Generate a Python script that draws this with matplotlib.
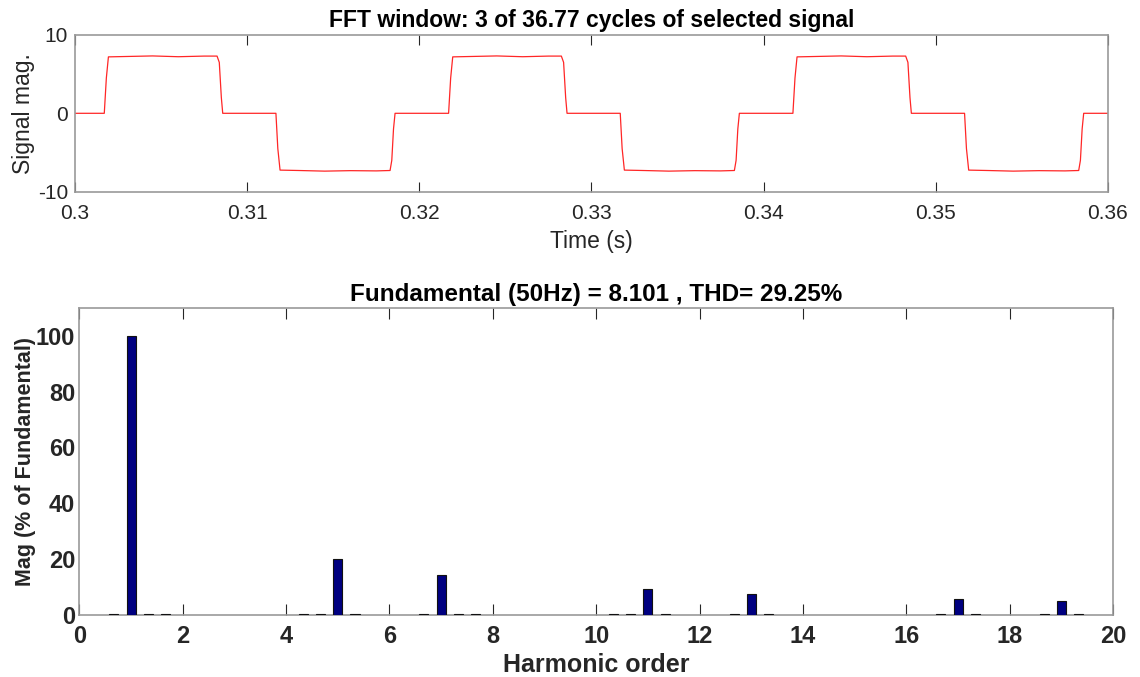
import numpy as np
import matplotlib
matplotlib.use("Agg")
import matplotlib.pyplot as plt

plt.rcParams['font.family'] = ['Liberation Sans', 'DejaVu Sans']
plt.rcParams['axes.unicode_minus'] = False

# ---- 上圖：FFT 視窗內的訊號 (3 個週期) ----
sig_t = [0.3000, 0.30170, 0.30182, 0.30194, 0.3030, 0.3045, 0.3060, 0.3075, 0.30825, 0.30838, 0.30850, 0.30858,
         0.31167, 0.31178, 0.31191, 0.3130, 0.3145, 0.3160, 0.3175, 0.31830, 0.31840, 0.31850, 0.31859,
         0.32170, 0.32182, 0.32194, 0.3230, 0.3245, 0.3260, 0.3275, 0.32825, 0.32838, 0.32850, 0.32858,
         0.33167, 0.33178, 0.33191, 0.3330, 0.3345, 0.3360, 0.3375, 0.33830, 0.33840, 0.33850, 0.33859,
         0.34170, 0.34182, 0.34194, 0.3430, 0.3445, 0.3460, 0.3475, 0.34825, 0.34838, 0.34850, 0.34858,
         0.35167, 0.35178, 0.35191, 0.3530, 0.3545, 0.3560, 0.3575, 0.35830, 0.35840, 0.35850, 0.35859,
         0.3600]
sig_v = [0.0, 0.0, 4.5, 7.2, 7.25, 7.32, 7.22, 7.3, 7.3, 6.5, 2.0, 0.0,
         0.0, -4.5, -7.25, -7.3, -7.38, -7.32, -7.35, -7.3, -6.0, -2.0, 0.0,
         0.0, 4.5, 7.2, 7.25, 7.32, 7.22, 7.3, 7.3, 6.5, 2.0, 0.0,
         0.0, -4.5, -7.25, -7.3, -7.38, -7.32, -7.35, -7.3, -6.0, -2.0, 0.0,
         0.0, 4.5, 7.2, 7.25, 7.32, 7.22, 7.3, 7.3, 6.5, 2.0, 0.0,
         0.0, -4.5, -7.25, -7.3, -7.38, -7.32, -7.35, -7.3, -6.0, -2.0, 0.0,
         0.0]
time_ticks = [0.3, 0.31, 0.32, 0.33, 0.34, 0.35, 0.36]
time_labels = ['0.3', '0.31', '0.32', '0.33', '0.34', '0.35', '0.36']

# ---- 下圖：諧波頻譜 (% of Fundamental) ----
harm_order = [0.667, 1, 1.333, 1.667,
              4.333, 4.667, 5, 5.333,
              6.667, 7, 7.333, 7.667,
              10.333, 10.667, 11, 11.333,
              12.667, 13, 13.333,
              16.667, 17, 17.333,
              18.667, 19, 19.333]
harm_mag = [0.25, 100, 0.25, 0.25,
            0.25, 0.25, 20.2, 0.25,
            0.25, 14.3, 0.25, 0.25,
            0.25, 0.25, 9.2, 0.25,
            0.25, 7.5, 0.25,
            0.25, 5.7, 0.25,
            0.25, 5.0, 0.25]

SPINE = '#999999'
TXT = '#262626'

fig = plt.figure(figsize=(11.4, 6.77), dpi=100)

# 上圖
ax1 = fig.add_axes([0.0658, 0.7169, 0.9061, 0.2315])
ax1.plot(sig_t, sig_v, color='#ff0000', linewidth=0.9, alpha=0.85)
ax1.set_xlim(0.3, 0.36)
ax1.set_ylim(-10, 10)
ax1.set_xticks(time_ticks)
ax1.set_xticklabels(time_labels)
ax1.set_yticks([-10, 0, 10])
ax1.set_title('FFT window: 3 of 36.77 cycles of selected signal',
              fontsize=16.5, fontweight='bold', pad=6)
ax1.set_xlabel('Time (s)', fontsize=16.5, color=TXT, labelpad=5)
ax1.set_ylabel('Signal mag.', fontsize=16.5, color=TXT, labelpad=2)
ax1.tick_params(axis='both', direction='in', top=True, right=True,
                labelsize=15, labelcolor=TXT, color=TXT, length=7, width=0.8)
ax1.tick_params(axis='x', pad=9)
ax1.tick_params(axis='y', length=0, pad=5)

# 下圖
ax2 = fig.add_axes([0.0696, 0.0916, 0.9068, 0.4539])
ax2.bar(harm_order, harm_mag, width=0.175, color='#000080',
        edgecolor='#111111', linewidth=0.8, zorder=3)
ax2.set_xlim(0, 20)
ax2.set_ylim(0, 110)
ax2.set_xticks(range(0, 21, 2))
ax2.set_yticks([0, 20, 40, 60, 80, 100])
ax2.set_title('Fundamental (50Hz) = 8.101 , THD= 29.25%',
              fontsize=17.5, fontweight='bold', pad=5)
ax2.set_xlabel('Harmonic order', fontsize=18, fontweight='bold', color=TXT, labelpad=4)
ax2.set_ylabel('Mag (% of Fundamental)', fontsize=15.5, fontweight='bold', color=TXT, labelpad=0)
ax2.tick_params(axis='both', direction='in', top=True, right=False,
                labelsize=17, labelcolor=TXT, color=TXT, length=8, width=0.8)
ax2.tick_params(axis='x', pad=7)
ax2.tick_params(axis='y', length=0, pad=3)
for lbl in ax2.get_xticklabels() + ax2.get_yticklabels():
    lbl.set_fontweight('bold')

for ax in (ax1, ax2):
    for sp in ax.spines.values():
        sp.set_color(SPINE)
        sp.set_linewidth(1.2)

fig.savefig('out.png', dpi=100, facecolor='white')
